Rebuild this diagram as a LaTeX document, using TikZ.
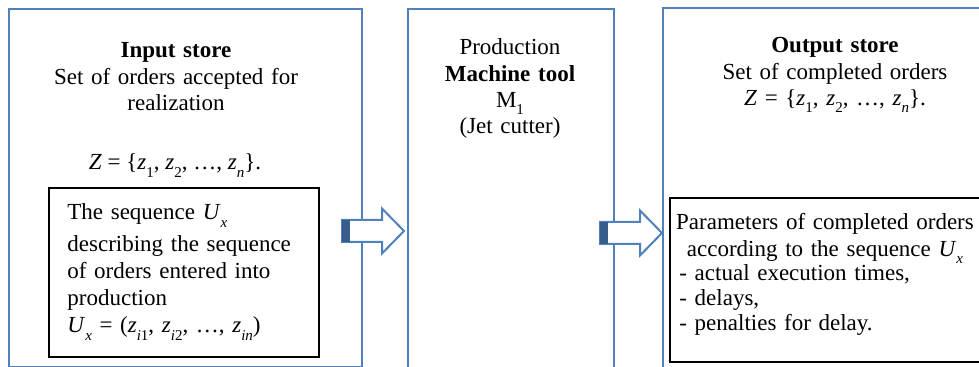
\documentclass[tikz,border=0pt]{standalone}
\usepackage{fontspec}
\setmainfont{Liberation Serif}
\definecolor{boxblue}{RGB}{79,129,189}
\definecolor{darkblue}{RGB}{56,93,138}
\newcommand{\lo}[1]{\raisebox{-0.7ex}{\fontsize{7.5}{8}\selectfont #1}}
\newcommand{\vz}{\textit{z}}
% block arrow: left end x, centre y
\newcommand{\blockarrow}[2]{%
  \draw[arr] (#1,#2-11) -- ++(40,0) -- ++(0,-11.5) -- (#1+62,#2) -- (#1+40,#2+22.5)
    -- ++(0,-11.5) -- (#1,#2+11) -- cycle;
  \fill[darkblue] (#1,#2-11) rectangle (#1+8,#2+11);}

\begin{document}
\begin{tikzpicture}[x=0.5pt,y=-0.5pt,
  store/.style={draw=boxblue,line width=1pt,anchor=north west,inner sep=0pt},
  inbox/.style={draw=black,line width=0.9pt,anchor=north west,inner sep=0pt},
  txt/.style={font=\fontsize{11.5}{13.1}\selectfont,inner sep=0pt,align=center},
  arr/.style={draw=boxblue,line width=1pt,fill=white,line join=miter}]
  \clip (0,0) rectangle (979,367);
  % outer boxes
  \node[store,minimum width=176.5pt,minimum height=179pt] (input) at (8,8) {};
  \node[store,minimum width=103pt,minimum height=186pt] (machine) at (407,8) {};
  \node[store,minimum width=170pt,minimum height=187pt] (output) at (662,7) {};
  % inner boxes
  \node[inbox,minimum width=135pt,minimum height=84.5pt] (seq) at (48,187) {};
  \node[inbox,minimum width=170pt,minimum height=82pt] (params) at (669,197) {};
  % texts
  \node[txt,text width=150pt,anchor=base] (intitle) at (176,58)
    {\textbf{Input store}\\Set of orders accepted for\\realization};
  \node[txt,anchor=base] (inset) at (175,170)
    {\textit{Z} = \{\vz\lo{1}, \vz\lo{2}, …, \vz\lo{\textit{n}}\}.};
  \node[txt,text width=130pt,align=left,anchor=base west,font=\fontsize{11.5}{13.6}\selectfont] (seqtext) at (67,220)
    {The sequence \textit{U}\lo{\textit{x}}\\[2pt]describing the sequence\\of orders entered into\\production\\
     \textit{U}\lo{\textit{x}} = (\vz\lo{\textit{i}1}, \vz\lo{\textit{i}2}, …, \vz\lo{\textit{in}})};
  \node[txt,text width=90pt,anchor=base] (mtext) at (510,55)
    {Production\\\textbf{Machine tool}\\M\lo{1}\\(Jet cutter)};
  \node[txt,text width=160pt,anchor=base] (outtitle) at (835,53)
    {\textbf{Output store}\\Set of completed orders\\
     \textit{Z} = \{\vz\lo{1}, \vz\lo{2}, …, \vz\lo{\textit{n}}\}.};
  \node[txt,text width=160pt,anchor=base] (paramhead) at (825,230)
    {Parameters of completed orders\\according to the sequence \textit{U}\lo{\textit{x}}};
  \node[txt,text width=160pt,align=left,anchor=base west,font=\fontsize{11.5}{12.3}\selectfont] (paramlist) at (679,281)
    {- actual execution times,\\- delays,\\- penalties for delay.};
  % flow arrows
  \blockarrow{342}{231}
  \blockarrow{600}{233}
\end{tikzpicture}
\end{document}
